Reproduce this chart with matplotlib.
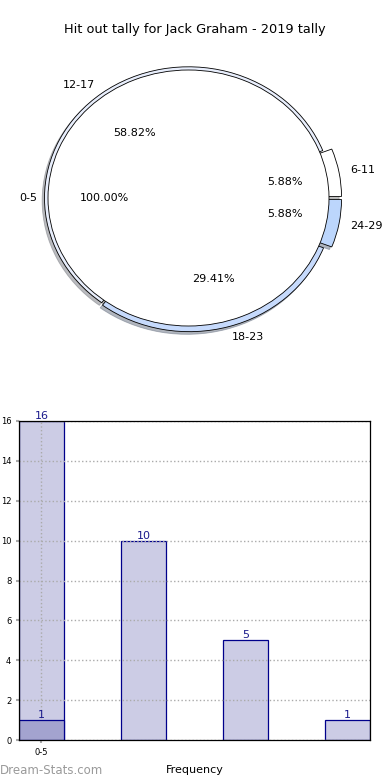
import matplotlib
matplotlib.use("Agg")
import matplotlib.pyplot as plt

title = "Hit out tally for Jack Graham - 2019 tally"

# inner pie (single slice)
inner_labels = ["0-5"]
inner_counts = [1]

# outer ring
ring_labels = ["6-11", "12-17", "18-23", "24-29"]
ring_counts = [1, 10, 5, 1]
ring_colors = ["#ffffff", "#e8eefc", "#c6dafc", "#bcd6fc"]
ring_explode = [0.065, 0.0, 0.02, 0.065]

# bar chart
bar_labels = ["0-5", "", "", ""]
bar_values = [16, 10, 5, 1]
overlay_values = [1]

fig = plt.figure(figsize=(3.9, 7.8), dpi=100)
fig.text(0.5, 1 - 30 / 780, title, ha="center", va="center", fontsize=9.3)

# ---- pie ----
W, H = 390.0, 780.0
ax1 = fig.add_axes([0, 1 - 350 / H, 1, 300 / H])
cx, cy = 188.5, 198.0
rx, ry = 140.5, 128.0
shadow = dict(ox=-0.012, oy=-0.015, shade=0.5)
ax1.pie(ring_counts, labels=ring_labels, colors=ring_colors, explode=ring_explode,
        radius=1.025, startangle=0, counterclock=True, shadow=shadow,
        autopct="%.2f%%", pctdistance=0.62, labeldistance=1.08,
        wedgeprops=dict(edgecolor="black", linewidth=0.6),
        textprops=dict(fontsize=8))
ax1.pie(inner_counts, labels=inner_labels, colors=["white"], radius=1.0,
        startangle=0, shadow=shadow, autopct="%.2f%%", pctdistance=0.6,
        labeldistance=1.08,
        wedgeprops=dict(edgecolor="black", linewidth=0.6),
        textprops=dict(fontsize=8))
ax1.set_aspect("auto")
ax1.set_xlim(-cx / rx, (W - cx) / rx)
ax1.set_ylim(-(350 - cy) / ry, (cy - 50) / ry)
ax1.axis("off")

# ---- bars ----
ax2 = fig.add_axes([19 / W, 1 - 740 / H, (370 - 19) / W, (740 - 421) / H])
xs = list(range(len(bar_values)))
w = 0.44
ax2.bar(xs, bar_values, w, color="#ccccE5", edgecolor="#00008b", linewidth=0.9, zorder=2)
ax2.bar(xs[:len(overlay_values)], overlay_values, w, color="#a3a3cf",
        edgecolor="#00008b", linewidth=0.9, zorder=3)
for x, v in zip(xs, bar_values):
    ax2.text(x, v, str(v), ha="center", va="bottom", color="#1a1a8c", fontsize=8,
             zorder=4)
for x, v in zip(xs, overlay_values):
    ax2.text(x, v, str(v), ha="center", va="bottom", color="#1a1a8c", fontsize=8,
             zorder=4)
ax2.set_xlim(-w / 2, xs[-1] + w / 2)
ax2.set_ylim(0, 16)
ax2.set_yticks(range(0, 17, 2))
ax2.set_xticks([0])
ax2.set_xticklabels([bar_labels[0]])
ax2.tick_params(labelsize=6, length=2, color="#aaaaaa", width=1.5)
ax2.grid(True, linestyle=":", color="#aaaaaa", linewidth=1, zorder=1)
ax2.set_axisbelow(False)
for s in ax2.spines.values():
    s.set_linewidth(0.9)
    s.set_zorder(6)
ax2.set_xlabel("Frequency", fontsize=8, labelpad=6)
ax2.set_ylabel("Stat Hit Outs", fontsize=7)
ax2.yaxis.set_label_coords(-0.052, 0.5)

fig.text(0, 1 - 771 / H, "Dream-Stats.com", ha="left", va="center",
         color="#9a9a9a", fontsize=8.5)

fig.savefig("out.png", dpi=100)
